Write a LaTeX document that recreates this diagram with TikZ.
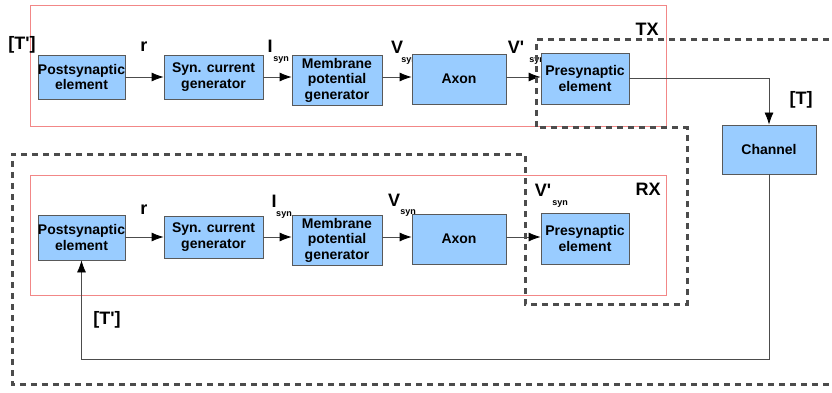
\documentclass[tikz,border=0pt]{standalone}
\usepackage{fontspec}
\setmainfont{Liberation Sans}
\usetikzlibrary{arrows.meta}
\definecolor{boxblue}{RGB}{153,204,255}
\definecolor{framered}{RGB}{242,135,135}
\tikzset{
  blk/.style={draw=black!65, fill=boxblue, align=center, inner sep=0pt,
    font=\fontsize{14}{15.5}\selectfont\bfseries},
  sig/.style={inner sep=0pt, font=\fontsize{18}{18}\selectfont\bfseries},
  sub/.style={inner sep=0pt, font=\fontsize{9}{9}\selectfont\bfseries},
  unitframe/.style={draw=framered, line width=0.9pt},
  bound/.style={line width=3pt, dash pattern=on 6pt off 5pt},
}
\newcommand{\pr}{\textquotesingle}
\begin{document}
\begin{tikzpicture}[x=1pt, y=-1pt, line width=0.8pt, draw=black!70,
  >={Latex[length=12pt,width=9pt,color=black]}]
\clip (0,0) rectangle (832,393);

\draw[unitframe] (30,5) rectangle (666,126);
\draw[unitframe] (30,175) rectangle (666,295);

\node[sig] (tp1) at (22,45) {[T\pr]};
\node[sig] (r1) at (144,47) {r};
\node[sig] (i1) at (270,46) {I};
\node[sub] (is1) at (281,60) {syn};
\node[sig] (v1) at (397,47) {V};
\node[sub] (vs1) at (409,61) {syn};
\node[sig] (vp1) at (516,47) {V\pr};
\node[sub] (vps1) at (537,61) {syn};
\node[sig] (tx) at (647,29) {TX};
\node[sig] (t) at (801,100) {[T]};

\node[sig] (r2) at (144,210) {r};
\node[sig] (i2) at (274,201) {I};
\node[sub] (is2) at (284,215) {syn};
\node[sig] (v2) at (394,200) {V};
\node[sub] (vs2) at (408,213) {syn};
\node[sig] (vp2) at (543,190) {V\pr};
\node[sub] (vps2) at (560,204) {syn};
\node[sig] (rx) at (648,189) {RX};
\node[sig] (tp2) at (107,320) {[T\pr]};

\node[blk, minimum width=87pt, minimum height=44pt] (post1) at (81.5,77) {Postsynaptic\\element};
\node[blk, minimum width=99pt, minimum height=44pt] (syn1) at (213.5,77) {Syn. current\\generator};
\node[blk, minimum width=90pt, minimum height=50pt] (mem1) at (337,80) {Membrane\\potential\\generator};
\node[blk, minimum width=94pt, minimum height=50pt] (axon1) at (459,79) {Axon};
\node[blk, minimum width=88pt, minimum height=51pt] (pre1) at (585,78.5) {Presynaptic\\element};

\node[blk, minimum width=87pt, minimum height=45pt] (post2) at (81.5,237.5) {Postsynaptic\\element};
\node[blk, minimum width=99pt, minimum height=42pt] (syn2) at (213.5,237) {Syn. current\\generator};
\node[blk, minimum width=90pt, minimum height=50pt] (mem2) at (337,240) {Membrane\\potential\\generator};
\node[blk, minimum width=94pt, minimum height=50pt] (axon2) at (459,239) {Axon};
\node[blk, minimum width=88pt, minimum height=51pt] (pre2) at (585,238.5) {Presynaptic\\element};

\node[blk, minimum width=94pt, minimum height=49pt] (chan) at (769,149.5) {Channel};

\coordinate (row1) at (0,77);
\coordinate (row2) at (0,237);
\foreach \a/\b in {post1/syn1,syn1/mem1,mem1/axon1,axon1/pre1}
  \draw[->] (\a.east |- row1) -- (\b.west |- row1);
\foreach \a/\b in {post2/syn2,syn2/mem2,mem2/axon2,axon2/pre2}
  \draw[->] (\a.east |- row2) -- (\b.west |- row2);

\draw[->] (pre1.east) -| (chan.north);
\draw[->] (chan.south) -- ++(0,185) -| (post2.south);

\draw[bound] (840,40) -- (536,40) -- (536,128) -- (687,128) -- (687,304)
  -- (525,304) -- (525,154) -- (12,154) -- (12,384) -- (840,384);

\end{tikzpicture}
\end{document}
